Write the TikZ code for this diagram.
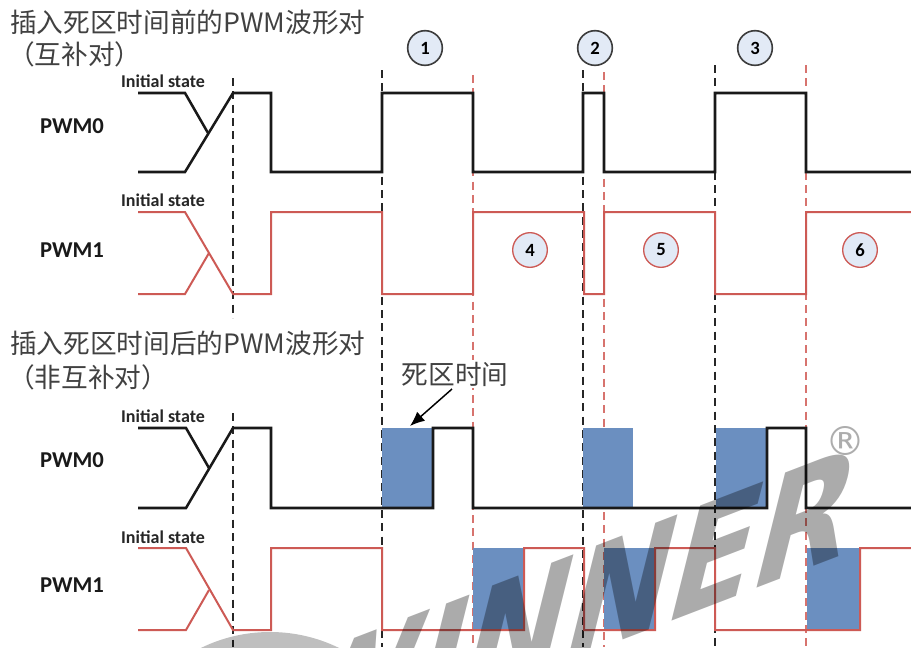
\documentclass[tikz,border=0pt]{standalone}
\usepackage{fontspec}
\setmainfont{Carlito}
\newfontfamily\cjk{Noto Sans CJK SC}
\newfontfamily\wmfont{DejaVu Sans}
\newfontfamily\symfont{DejaVu Sans}
\usetikzlibrary{arrows.meta}
\definecolor{wred}{RGB}{205,90,85}
\definecolor{dred}{RGB}{215,115,110}
\definecolor{dtblue}{RGB}{107,143,192}
\definecolor{cfill}{RGB}{226,234,246}
\definecolor{titlegray}{RGB}{65,65,65}
\definecolor{cgray}{RGB}{60,60,60}
\begin{document}
\begin{tikzpicture}[x=0.75pt,y=-0.75pt,
  wblack/.style={line width=1.9pt, black!90, line join=miter},
  wredl/.style={line width=1.5pt, wred, line join=miter},
  bdash/.style={line width=1.1pt, black!85, dash pattern=on 6pt off 4pt},
  rdash/.style={line width=1.0pt, dred, dash pattern=on 6pt off 4pt},
  dtbox/.style={fill=dtblue, draw=none},
  ttl/.style={anchor=west, font=\cjk\fontsize{20}{22}\selectfont, text=titlegray, inner sep=0pt},
  sig/.style={font=\bfseries\fontsize{17}{18}\selectfont, text=black!90, inner sep=0pt},
  init/.style={font=\bfseries\fontsize{13.5}{14}\selectfont, text=black!85, inner sep=0pt},
  circb/.style={circle, draw=cgray, line width=1.2pt, fill=cfill, minimum size=26pt, inner sep=0pt, font=\bfseries\fontsize{14}{14}\selectfont},
  circr/.style={circle, draw=wred, line width=1.0pt, fill=cfill, minimum size=26pt, inner sep=0pt, font=\bfseries\fontsize{14}{14}\selectfont}
]
\useasboundingbox (0,0) rectangle (911,647);
\clip (0,0) rectangle (911,647);
\fill[white] (0,0) rectangle (911,647);

% titles
\node[ttl] (t1) at (10,22) {插入死区时间前的PWM波形对};
\node[ttl] (t2) at (8,54) {（互补对）};
\node[ttl] (t3) at (10,343) {插入死区时间后的PWM波形对};
\node[ttl] (t4) at (8,377) {（非互补对）};

% dashed lines
\draw[bdash] (233,78) -- (233,318);
\draw[bdash] (233,413) -- (233,647);
\draw[bdash] (382,70) -- (382,647);
\draw[bdash] (583,70) -- (583,647);
\draw[bdash] (715,65) -- (715,647);
\draw[rdash] (473,75) -- (473,647);
\draw[rdash] (604,72) -- (604,647);
\draw[rdash] (806,65) -- (806,647);

% circles
\node[circb] (c1) at (425,48) {1};
\node[circb] (c2) at (595,48) {2};
\node[circb] (c3) at (755,48) {3};
\node[circr] (c4) at (530,250) {4};
\node[circr] (c5) at (661,250) {5};
\node[circr] (c6) at (860,250) {6};

% labels
\node[sig] (l1) at (72,126) {PWM0};
\node[sig] (l2) at (72,250) {PWM1};
\node[sig] (l3) at (72,460) {PWM0};
\node[sig] (l4) at (72,585) {PWM1};
\node[init] (i1) at (163,81) {Initial state};
\node[init] (i2) at (163,200) {Initial state};
\node[init] (i3) at (163,416) {Initial state};
\node[init] (i4) at (163,537) {Initial state};

% top PWM0
\draw[wblack] (138,93) -- (185,93) -- (208,133);
\draw[wblack] (138,172) -- (185,172) -- (233,93) -- (271,93) -- (271,172) -- (382,172) -- (382,93) -- (473,93) -- (473,172) -- (583,172) -- (583,93) -- (604,93) -- (604,172) -- (715,172) -- (715,93) -- (806,93) -- (806,172) -- (915,172);
% top PWM1
\draw[wredl] (138,212) -- (185,212) -- (233,294) -- (271,294) -- (271,212) -- (382,212) -- (382,294) -- (473,294) -- (473,212) -- (584,212) -- (584,294) -- (604,294) -- (604,212) -- (715,212) -- (715,294) -- (806,294) -- (806,212) -- (915,212);
\draw[wredl] (138,294) -- (185,294) -- (209,253);

% dead time boxes
\fill[dtbox] (382,428) rectangle (433,508);
\fill[dtbox] (583,428) rectangle (633,508);
\fill[dtbox] (716,428) rectangle (767,508);
\fill[dtbox] (473,548) rectangle (524,630);
\fill[dtbox] (604,548) rectangle (655,630);
\fill[dtbox] (807,548) rectangle (860,630);

% bottom PWM0
\draw[wblack] (138,428) -- (186,428) -- (209,468);
\draw[wblack] (138,508) -- (186,508) -- (233,428) -- (271,428) -- (271,508) -- (433,508) -- (433,428) -- (473,428) -- (473,508) -- (767,508) -- (767,428) -- (806,428) -- (806,508) -- (915,508);
% bottom PWM1
\draw[wredl] (138,548) -- (186,548) -- (233,630) -- (271,630) -- (271,548) -- (382,548) -- (382,630) -- (524,630) -- (524,548) -- (584,548) -- (584,630) -- (655,630) -- (655,548) -- (715,548) -- (715,630) -- (860,630) -- (860,548) -- (915,548);
\draw[wredl] (138,630) -- (186,630) -- (209,590);

% dead time label
\node[font=\cjk\fontsize{20}{22}\selectfont, text=titlegray, fill=white, inner sep=1pt] (dt) at (455,374) {死区时间};
\coordinate (tip) at (410,426);
\draw[line width=1.1pt, -{Latex[length=11pt,width=9pt]}] (452,389) -- (tip);

% watermark
\fill[black, opacity=0.25] (270,789) circle (117.75pt);
\node[font=\wmfont\bfseries\fontsize{100}{100}\selectfont, text=black, opacity=0.33, anchor=base east, rotate=21, xslant=0.7, inner sep=0pt] (wm) at (842,556) {ALLWINNER};
\node[font=\symfont\fontsize{30}{30}\selectfont, text=black!32, inner sep=0pt] (reg) at (845,441) {®};
\end{tikzpicture}
\end{document}
